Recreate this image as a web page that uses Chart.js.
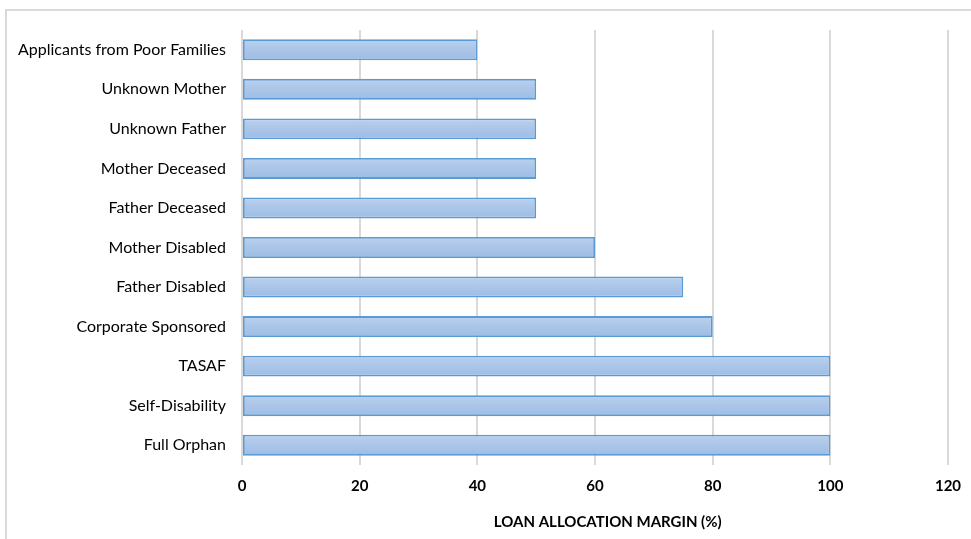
<!DOCTYPE html>
<html>
<head>
<meta charset="utf-8">
<script src="https://cdn.jsdelivr.net/npm/chart.js@4"></script>
<style>
  html, body { margin: 0; padding: 0; background: #fff; }
  #wrap { position: relative; width: 971px; height: 539px; overflow: hidden; }
  #frame { position: absolute; left: 5px; top: 9px; width: 1000px; height: 600px;
           border-left: 2px solid #d9d9d9; border-top: 2px solid #d9d9d9; }
  canvas { position: absolute; left: 0; top: 0; }
</style>
</head>
<body>
<div id="wrap">
  <div id="frame"></div>
  <canvas id="myChart" width="971" height="539"></canvas>
</div>
<script>
const categories = [
  'Applicants from Poor Families',
  'Unknown Mother',
  'Unknown Father',
  'Mother Deceased',
  'Father Deceased',
  'Mother Disabled',
  'Father Disabled',
  'Corporate Sponsored',
  'TASAF',
  'Self-Disability',
  'Full Orphan'
];
const margins = [40, 50, 50, 50, 50, 60, 75, 80, 100, 100, 100];
const xTicks = [0, 20, 40, 60, 80, 100, 120];

// vertical gradient inside each bar, like the Excel fill
function barFill(ctx) {
  const chart = ctx.chart;
  const y = chart.scales.y;
  if (!y || ctx.dataIndex === undefined) return '#a9c4e8';
  const mid = y.getPixelForValue(ctx.dataIndex);
  if (!isFinite(mid)) return '#a9c4e8';
  const g = chart.ctx.createLinearGradient(0, mid - 11, 0, mid + 11);
  g.addColorStop(0, '#bcd2ee');
  g.addColorStop(0.5, '#aac5e8');
  g.addColorStop(1, '#9dbde5');
  return g;
}

const config = {
  type: 'bar',
  data: {
    labels: categories,
    datasets: [{
      label: 'Loan allocation margin',
      data: margins,
      backgroundColor: barFill,
      borderColor: '#5b9bd5',
      borderWidth: 1.8,
      borderSkipped: false,
      categoryPercentage: 1,
      barPercentage: 0.53
    }]
  },
  options: {
    indexAxis: 'y',
    responsive: false,
    animation: false,
    layout: { padding: { top: 30, right: 23, bottom: 0, left: 0 } },
    plugins: {
      legend: { display: false },
      tooltip: { enabled: false }
    },
    scales: {
      x: {
        min: 0,
        max: 120,
        afterBuildTicks: (scale) => { scale.ticks = xTicks.map(v => ({ value: v })); },
        grid: { color: '#d9d9d9', lineWidth: 2, drawTicks: false },
        border: { display: false },
        ticks: {
          padding: 12,
          color: '#000',
          font: { family: 'Lato', size: 15, weight: 'bold' }
        },
        title: {
          display: true,
          // leading spaces nudge the centred title right, as in the original
          text: '\u00a0\u00a0\u00a0\u00a0\u00a0\u00a0\u00a0LOAN ALLOCATION MARGIN (%)',
          color: '#000',
          padding: { top: 4, bottom: 8 },
          font: { family: 'Lato', size: 15, weight: 'bold' }
        },
        afterFit: (scale) => {
          scale.height = 74;
          scale.paddingRight = 0;
        }
      },
      y: {
        grid: { display: false, drawTicks: false },
        border: { display: false },
        ticks: {
          padding: 16,
          color: '#000',
          font: { family: 'Lato', size: 16 }
        },
        afterFit: (scale) => { scale.width = 242; }
      }
    }
  }
};

const myChart = new Chart(document.getElementById('myChart'), config);
</script>
</body>
</html>
